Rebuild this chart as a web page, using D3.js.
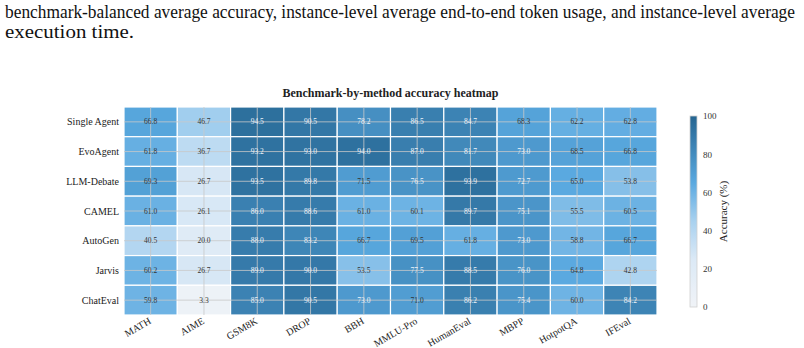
<!DOCTYPE html>
<html>
<head>
<meta charset="utf-8">
<script src="https://cdn.jsdelivr.net/npm/d3@7"></script>
<style>
  body { margin: 0; background: #fff; }
</style>
</head>
<body>
<svg id="chart" width="804" height="348"></svg>
<script>
// methods (rows) and benchmarks (columns)
const methods = ["Single Agent", "EvoAgent", "LLM-Debate", "CAMEL", "AutoGen", "Jarvis", "ChatEval"];
const benchmarks = ["MATH", "AIME", "GSM8K", "DROP", "BBH", "MMLU-Pro", "HumanEval", "MBPP", "HotpotQA", "IFEval"];

// accuracy per method, same order as benchmarks
const singleAgent = [66.8, 46.7, 94.5, 90.5, 78.2, 86.5, 84.7, 68.3, 62.2, 62.8];
const evoAgent    = [61.8, 36.7, 93.2, 93.0, 94.0, 87.0, 81.7, 73.0, 68.5, 66.8];
const llmDebate   = [69.3, 26.7, 93.5, 89.8, 71.5, 76.5, 93.9, 72.7, 65.0, 53.8];
const camel       = [61.0, 26.1, 86.0, 88.6, 61.0, 60.1, 89.7, 75.1, 55.5, 60.5];
const autoGen     = [40.5, 20.0, 88.0, 83.2, 66.7, 69.5, 61.8, 73.0, 58.8, 66.7];
const jarvis      = [60.2, 26.7, 89.0, 90.0, 53.5, 77.5, 88.5, 76.0, 64.8, 42.8];
const chatEval    = [59.8,  3.3, 85.0, 90.5, 73.0, 71.0, 86.2, 75.4, 60.0, 84.2];

const rows = [singleAgent, evoAgent, llmDebate, camel, autoGen, jarvis, chatEval];
const cbTicks = [0, 20, 40, 60, 80, 100];

const FONT = "'Liberation Serif', 'Times New Roman', serif";
const svg = d3.select("#chart");

// caption text from the page above the figure (squeezed like the source)
svg.append("text").attr("x", 5).attr("y", 18)
  .style("font-family", FONT)
  .attr("font-size", 18.5).attr("fill", "#111")
  .attr("textLength", 790).attr("lengthAdjust", "spacingAndGlyphs")
  .text("benchmark-balanced average accuracy, instance-level average end-to-end token usage, and instance-level average");
svg.append("text").attr("x", 5).attr("y", 38)
  .style("font-family", FONT)
  .attr("font-size", 18.5).attr("fill", "#111")
  .attr("textLength", 129).attr("lengthAdjust", "spacingAndGlyphs")
  .text("execution time.");

const margin = { left: 124, top: 107, right: 657, bottom: 315 };

const x = d3.scaleBand().domain(benchmarks).range([margin.left, margin.right]);
const y = d3.scaleBand().domain(methods).range([margin.top, margin.bottom]);

const color = d3.scaleLinear()
  .domain([0, 25, 45, 65, 100])
  .range(["#f0f3f7", "#dbe9f6", "#a8d1ef", "#5aa9e0", "#256591"])
  .clamp(true);

const cells = [];
rows.forEach((vals, i) => vals.forEach((v, j) => cells.push({ m: methods[i], b: benchmarks[j], v })));

const g = svg.append("g");

g.selectAll("rect.cell")
  .data(cells)
  .enter()
  .append("rect")
  .attr("class", "cell")
  .attr("x", d => x(d.b))
  .attr("y", d => y(d.m))
  .attr("width", x.bandwidth())
  .attr("height", y.bandwidth())
  .attr("fill", d => color(d.v))
  .attr("stroke", "#fff")
  .attr("stroke-width", 1.2);

// grid lines through cell centres, drawn on top
g.selectAll("line.vg")
  .data(benchmarks)
  .enter()
  .append("line")
  .attr("x1", d => x(d) + x.bandwidth() / 2)
  .attr("x2", d => x(d) + x.bandwidth() / 2)
  .attr("y1", margin.top).attr("y2", margin.bottom)
  .attr("stroke", "#c8c8c8").attr("stroke-opacity", 0.8).attr("stroke-width", 1);

g.selectAll("line.hg")
  .data(methods)
  .enter()
  .append("line")
  .attr("y1", d => y(d) + y.bandwidth() / 2)
  .attr("y2", d => y(d) + y.bandwidth() / 2)
  .attr("x1", margin.left).attr("x2", margin.right)
  .attr("stroke", "#c8c8c8").attr("stroke-opacity", 0.8).attr("stroke-width", 1);

g.selectAll("text.val")
  .data(cells)
  .enter()
  .append("text")
  .attr("x", d => x(d.b) + x.bandwidth() / 2)
  .attr("y", d => y(d.m) + y.bandwidth() / 2 + 2.5)
  .attr("text-anchor", "middle")
  .style("font-family", FONT)
  .attr("font-size", 7.5)
  .attr("fill", d => d.v > 72 ? "#eef4fa" : "#333")
  .text(d => d.v.toFixed(1));

// row labels
g.selectAll("text.rl")
  .data(methods)
  .enter()
  .append("text")
  .attr("x", margin.left - 5)
  .attr("y", d => y(d) + y.bandwidth() / 2 + 3.5)
  .attr("text-anchor", "end")
  .style("font-family", FONT)
  .attr("font-size", 10)
  .attr("fill", "#222")
  .text(d => d);

// column labels, rotated
g.selectAll("text.cl")
  .data(benchmarks)
  .enter()
  .append("text")
  .attr("transform", d => `translate(${x(d) + x.bandwidth() / 2 + 1},${margin.bottom + 8}) rotate(-30)`)
  .attr("text-anchor", "end")
  .style("font-family", FONT)
  .attr("font-size", 10)
  .attr("fill", "#222")
  .text(d => d);

// title
svg.append("text")
  .attr("x", (margin.left + margin.right) / 2)
  .attr("y", 97)
  .attr("text-anchor", "middle")
  .style("font-family", FONT)
  .attr("font-size", 12)
  .attr("font-weight", "bold")
  .attr("fill", "#222")
  .text("Benchmark-by-method accuracy heatmap");

// colorbar
const cbX = 690, cbW = 7, cbTop = 116, cbBottom = 307;
const cy = d3.scaleLinear().domain([0, 100]).range([cbBottom, cbTop]);

const defs = svg.append("defs");
const grad = defs.append("linearGradient")
  .attr("id", "cbgrad").attr("x1", 0).attr("y1", 1).attr("x2", 0).attr("y2", 0);
d3.range(0, 101, 5).forEach(v => {
  grad.append("stop").attr("offset", v / 100).attr("stop-color", color(v));
});

svg.append("rect")
  .attr("x", cbX).attr("y", cbTop)
  .attr("width", cbW).attr("height", cbBottom - cbTop)
  .attr("fill", "url(#cbgrad)")
  .attr("stroke", "#d0d0d0").attr("stroke-width", 0.8);

const cbAxis = svg.append("g")
  .attr("transform", `translate(${cbX + cbW},0)`)
  .call(d3.axisRight(cy).tickValues(cbTicks).tickSize(0).tickPadding(6));
cbAxis.select(".domain").remove();
cbAxis.selectAll("text")
  .style("font-family", FONT)
  .attr("font-size", 9)
  .attr("fill", "#333");

svg.append("text")
  .attr("transform", `translate(727,${(cbTop + cbBottom) / 2}) rotate(-90)`)
  .attr("text-anchor", "middle")
  .style("font-family", FONT)
  .attr("font-size", 11)
  .attr("fill", "#222")
  .text("Accuracy (%)");
</script>
</body>
</html>
